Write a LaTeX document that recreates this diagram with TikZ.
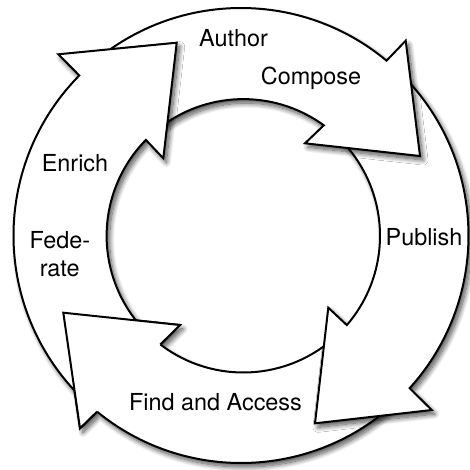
\documentclass[tikz,border=0pt]{standalone}
\usepackage{fontspec}
\setmainfont{TeX Gyre Heros}
\usetikzlibrary{calc,shadows.blur}
\begin{document}
\begin{tikzpicture}[x=1pt,y=1pt,
  ringarrow/.style={fill=white, draw=black, line width=2pt, line join=miter,
    blur shadow={shadow xshift=3pt, shadow yshift=-4pt, shadow blur radius=5pt, shadow blur steps=12, shadow opacity=70}},
  headline/.style={draw=black, line width=2pt, line join=miter},
  lbl/.style={font=\fontsize{23.4}{28}\selectfont, inner sep=0pt, anchor=base, text=black}]
\useasboundingbox (0,0) rectangle (470,-469);
\coordinate (O) at (241,-235.5);
\coordinate (I) at (243.3,-235.8);
\def\ROut{227.5}
\def\RIn{136.7}
% arrow 4: Find and Access
\draw[ringarrow] ($(O)+(-47:\ROut)$) arc[start angle=-47, end angle=-129.25, radius=\ROut]
  -- (80,-428.3) -- (63.3,-312.7) -- (180,-325)
  -- ($(I)+(-127.34:\RIn)$) arc[start angle=-127.34, end angle=-47, radius=\RIn] -- cycle;
% arrow 3: Publish
\draw[ringarrow] ($(O)+(46:\ROut)$) arc[start angle=46, end angle=-42.15, radius=\ROut]
  -- (431.7,-410) -- (315,-423.3) -- (328.3,-307.7)
  -- ($(I)+(-40.78:\RIn)$) arc[start angle=-40.78, end angle=46, radius=\RIn] -- cycle;
% arrow 2: Author / Compose
\draw[ringarrow] ($(O)+(130:\ROut)$) arc[start angle=130, end angle=50.23, radius=\ROut]
  -- (405.7,-40.7) -- (420,-156) -- (305,-143.3)
  -- ($(I)+(53.93:\RIn)$) arc[start angle=53.93, end angle=130, radius=\RIn] -- cycle;
% arrow 1: Enrich / Federate
\draw[ringarrow] ($(O)+(227:\ROut)$) arc[start angle=227, end angle=135.3, radius=\ROut]
  -- (58.3,-54.3) -- (176.7,-42.7) -- (163.3,-158.3)
  -- ($(I)+(135.45:\RIn)$) arc[start angle=135.45, end angle=227, radius=\RIn] -- cycle;
% head of arrow 4 over the tail of arrow 1
\fill[white] ($(O)+(-129.25:\ROut)$) -- (80,-428.3) -- (63.3,-312.7) -- (180,-325)
  -- ($(I)+(-127.34:\RIn)$) -- cycle;
\draw[headline] ($(O)+(-129.25:\ROut)$) -- (80,-428.3) -- (63.3,-312.7) -- (180,-325)
  -- ($(I)+(-127.34:\RIn)$);
% labels
\node[lbl] (author) at (233.5,-46.7) {Author};
\node[lbl] (compose) at (311,-84) {Compose};
\node[lbl] (enrich) at (75,-171.7) {Enrich};
\node[lbl] (fede) at (60,-248.3) {Fede-};
\node[lbl] (rate) at (59.7,-276.7) {rate};
\node[lbl] (publish) at (424,-245.7) {Publish};
\node[lbl] (find) at (215.5,-410) {Find and Access};
\end{tikzpicture}
\end{document}
